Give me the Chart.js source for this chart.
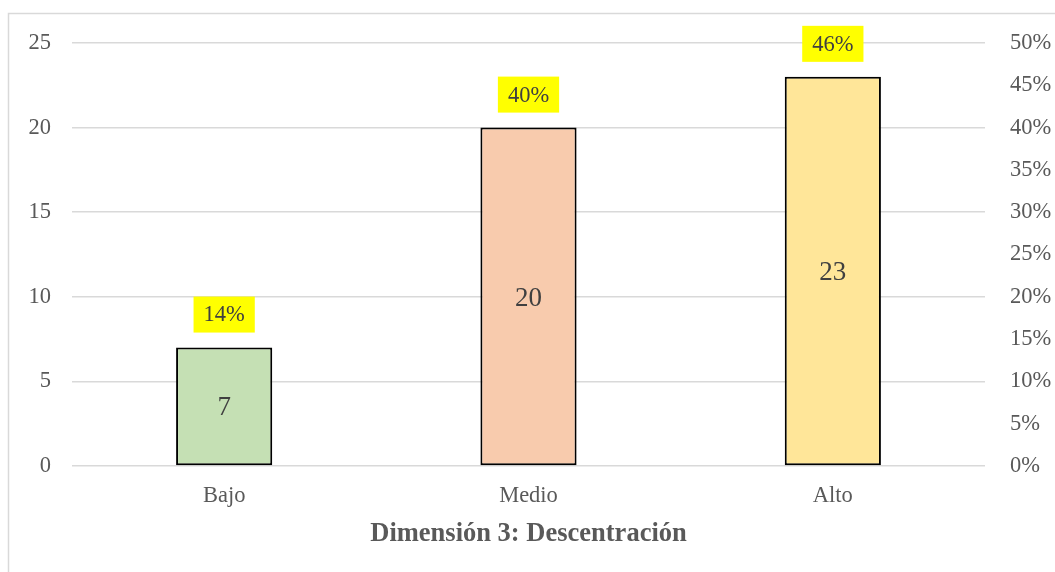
<!DOCTYPE html>
<html>
<head>
<meta charset="utf-8">
<script src="https://cdn.jsdelivr.net/npm/chart.js@4.4.1/dist/chart.umd.min.js"></script>
<style>
  html, body { margin: 0; padding: 0; background: #fff; }
  #wrap { position: relative; width: 1055px; height: 572px; }
</style>
</head>
<body>
<div id="wrap"><canvas id="c" width="1055" height="572"></canvas></div>
<script>
// Frequencies per level of "Dimensión 3"
const categories = ['Bajo', 'Medio', 'Alto'];
const counts = [7, 20, 23];
const percentLabels = ['14%', '40%', '46%'];
const barColors = ['#c5e0b4', '#f8cbad', '#ffe699'];
const leftTicks = [0, 5, 10, 15, 20, 25];
const rightTicks = [0, 5, 10, 15, 20, 25, 30, 35, 40, 45, 50];
const chartTitle = 'Dimensión 3: Descentración';

const serif = "'Liberation Serif', 'Times New Roman', serif";

// Light frame along the left and top edges of the figure
const framePlugin = {
  id: 'frame',
  beforeDraw(chart) {
    const ctx = chart.ctx;
    ctx.save();
    ctx.strokeStyle = '#d9d9d9';
    ctx.lineWidth = 1.5;
    ctx.beginPath();
    ctx.moveTo(8.5, chart.height);
    ctx.lineTo(8.5, 13.5);
    ctx.lineTo(chart.width, 13.5);
    ctx.stroke();
    ctx.restore();
  }
};

// Counts centered inside bars, percentages on yellow tags above them
const labelPlugin = {
  id: 'barLabels',
  afterDatasetsDraw(chart) {
    const ctx = chart.ctx;
    const meta = chart.getDatasetMeta(0);
    ctx.save();
    meta.data.forEach((bar, i) => {
      const cx = bar.x;
      const midY = (bar.y + bar.base) / 2;
      ctx.font = '27px ' + serif;
      ctx.fillStyle = '#404040';
      ctx.textAlign = 'center';
      ctx.textBaseline = 'middle';
      ctx.fillText(String(counts[i]), cx, midY + 2);

      ctx.font = '22.5px ' + serif;
      const txt = percentLabels[i];
      const w = ctx.measureText(txt).width + 20;
      const h = 36;
      const boxBottom = bar.y - 15;
      ctx.fillStyle = '#ffff00';
      ctx.fillRect(cx - w / 2, boxBottom - h, w, h);
      ctx.fillStyle = '#404040';
      ctx.fillText(txt, cx, boxBottom - h / 2 + 1);
    });
    ctx.restore();
  }
};

new Chart(document.getElementById('c'), {
  type: 'bar',
  data: {
    labels: categories,
    datasets: [{
      data: counts,
      backgroundColor: barColors,
      borderColor: '#000000',
      borderWidth: 2,
      borderSkipped: false,
      barPercentage: 0.316,
      categoryPercentage: 1.0,
      yAxisID: 'y'
    }]
  },
  options: {
    responsive: false,
    animation: false,
    devicePixelRatio: 1,
    layout: { padding: { top: 43, left: 0, right: 0, bottom: 22 } },
    plugins: {
      legend: { display: false },
      tooltip: { enabled: false }
    },
    scales: {
      x: {
        afterFit(axis) { axis.height = 84; },
        grid: { display: false, drawTicks: false },
        border: { display: false },
        ticks: { color: '#595959', font: { family: serif, size: 22.5 }, padding: 17 },
        title: {
          display: true,
          text: chartTitle,
          color: '#595959',
          font: { family: serif, size: 26.5, weight: 'bold' },
          padding: { top: 0, bottom: 0 }
        }
      },
      y: {
        position: 'left',
        min: 0, max: 25,
        afterBuildTicks(axis) { axis.ticks = leftTicks.map(v => ({ value: v })); },
        afterFit(axis) { axis.width = 72; },
        grid: { color: '#d9d9d9', lineWidth: 1.5, drawTicks: false },
        border: { display: false },
        ticks: { color: '#595959', font: { family: serif, size: 22.5 }, padding: 21 }
      },
      y2: {
        display: true,
        position: 'right',
        min: 0, max: 50,
        afterBuildTicks(axis) { axis.ticks = rightTicks.map(v => ({ value: v })); },
        afterFit(axis) { axis.width = 70; },
        grid: { display: false, drawTicks: false },
        border: { display: false },
        ticks: {
          color: '#595959', font: { family: serif, size: 22.5 }, padding: 25,
          callback: v => v + '%'
        }
      }
    }
  },
  plugins: [framePlugin, labelPlugin]
});
</script>
</body>
</html>
